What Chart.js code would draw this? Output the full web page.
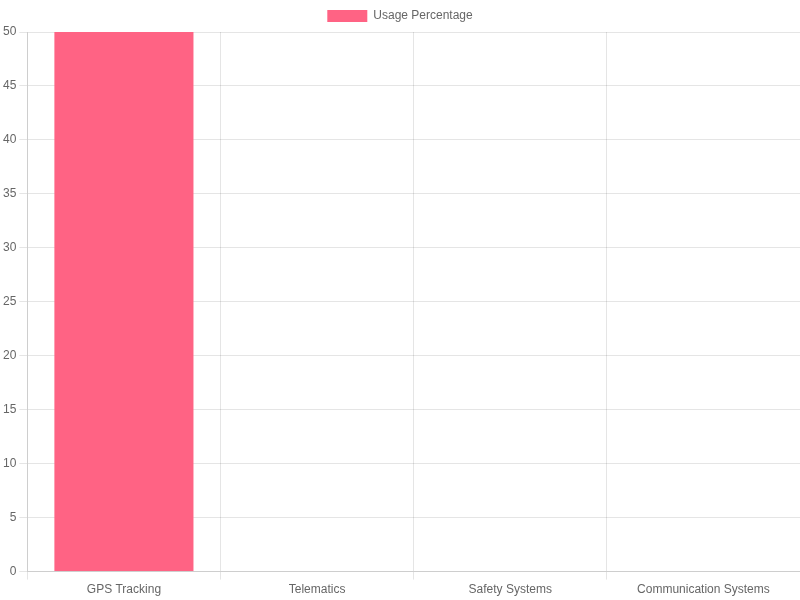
<!DOCTYPE html>
<html>
<head>
<meta charset="utf-8">
<script src="https://cdn.jsdelivr.net/npm/chart.js@4"></script>
<style>
html,body{margin:0;padding:0;background:#fff;}
#wrap{width:800px;height:600px;}
</style>
</head>
<body>
<div id="wrap"><canvas id="c"></canvas></div>
<script>
const categories = ["GPS Tracking", "Telematics", "Safety Systems", "Communication Systems"];
const usageValues = [50, 0, 0, 0];
const seriesLabel = "Usage Percentage";

new Chart(document.getElementById('c'), {
  type: 'bar',
  data: {
    labels: categories,
    datasets: [{
      label: seriesLabel,
      data: usageValues,
      backgroundColor: 'rgb(255, 99, 132)',
      borderColor: 'rgba(255, 99, 132, 0.6)',
      borderWidth: 0
    }]
  },
  options: {
    responsive: true,
    maintainAspectRatio: false,
    animation: false,
    scales: {
      y: { beginAtZero: true }
    }
  }
});
</script>
</body>
</html>
